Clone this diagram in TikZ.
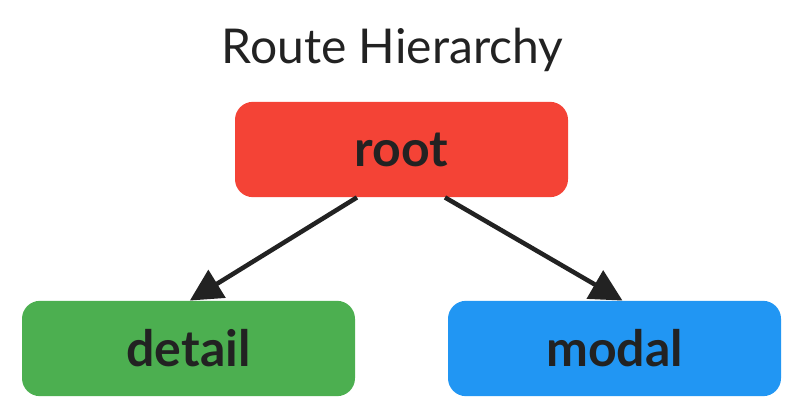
\documentclass[tikz,border=0pt]{standalone}
\usepackage{fontspec}
\setmainfont{Lato}
\usetikzlibrary{arrows.meta}
\definecolor{rootred}{HTML}{F44336}
\definecolor{detailgreen}{HTML}{4CAF50}
\definecolor{modalblue}{HTML}{2196F3}
\definecolor{inkdark}{HTML}{222222}
\begin{document}
\begin{tikzpicture}[x=0.75pt, y=-0.75pt]
\tikzset{routebox/.style={rounded corners=13.5pt, minimum width=249.75pt, minimum height=71.5pt, inner sep=0pt, text=inkdark, font=\fontsize{37.5}{40}\selectfont\bfseries},
fleche/.style={draw=inkdark, line width=3.4pt, -{Triangle[length=24pt 0 0, width=24pt 0 0]}}}
\useasboundingbox (0,0) rectangle (798,414);
\node[anchor=base, text=inkdark, font=\fontsize{36}{40}\selectfont] (titre) at (392.5,63) {Route Hierarchy};
\node[routebox, fill=rootred] (root) at (401.5,149.5) {root};
\node[routebox, fill=detailgreen] (detail) at (188.5,348.5) {detail};
\node[routebox, fill=modalblue] (modal) at (614.5,348.5) {modal};
\draw[fleche] ([xshift=-33.4pt]root.south) -- ([xshift=1pt]detail.north);
\draw[fleche] ([xshift=32.6pt]root.south) -- ([xshift=6pt]modal.north);
\end{tikzpicture}
\end{document}
